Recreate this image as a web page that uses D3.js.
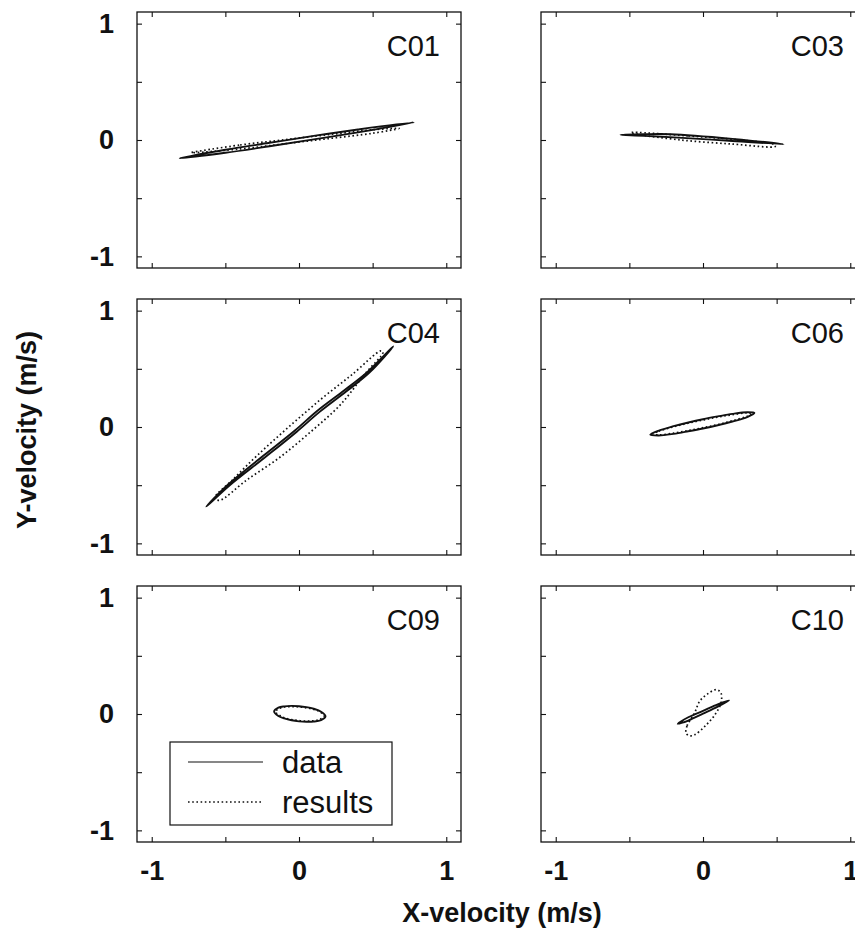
<!DOCTYPE html>
<html><head><meta charset="utf-8">
<script src="https://cdn.jsdelivr.net/npm/d3@7"></script>
<style>body{margin:0;background:#fff}</style>
</head><body><svg id="c" width="855" height="934"></svg>
<script>
// ---------- data (velocities in m/s) ----------
const panelNames = ["C01", "C03", "C04", "C06", "C09", "C10"];

const dataC01 = [[-0.81,-0.157],[-0.5,-0.084],[-0.2,-0.024],[0.1,0.035],[0.4,0.090],[0.78,0.152],[0.4,0.066],[0.1,0.005],[-0.2,-0.054],[-0.5,-0.110]];
const resultsC01 = [[-0.73,-0.109],[-0.4,-0.043],[-0.1,0.002],[0.2,0.046],[0.5,0.088],[0.68,0.100],[0.5,0.058],[0.2,0.012],[-0.1,-0.033],[-0.4,-0.077]];

const dataC03 = [[-0.56,0.045],[-0.4,0.05],[-0.22,0.05],[0.2,0.01],[0.546,-0.036],[0.2,-0.008],[-0.17,0.02],[-0.4,0.037]];
const resultsC03 = [[-0.49,0.065],[-0.1,0.035],[0.25,0.0],[0.486,-0.04],[0.49,-0.055],[0.2,-0.035],[-0.15,0.0],[-0.45,0.05]];

const dataC04 = [[-0.63,-0.684],[-0.483,-0.496],[-0.245,-0.25],[-0.03,-0.032],[0.127,0.142],[0.308,0.316],[0.467,0.476],[0.64,0.693],[0.48,0.47],[0.32,0.305],[0.14,0.13],[-0.015,-0.04],[-0.23,-0.26],[-0.47,-0.5]];
const resultsC04 = [[-0.573,-0.612],[-0.44,-0.44],[-0.28,-0.24],[-0.07,0.0],[0.15,0.24],[0.36,0.45],[0.557,0.655],[0.57,0.64],[0.45,0.46],[0.28,0.19],[0.09,-0.03],[-0.13,-0.26],[-0.36,-0.46],[-0.539,-0.63]];

const dataC06 = [[-0.358,-0.066],[-0.3,-0.031],[-0.2,0.007],[-0.1,0.039],[0,0.067],[0.1,0.091],[0.2,0.113],[0.3,0.127],[0.349,0.121],[0.3,0.085],[0.2,0.047],[0.1,0.015],[0,-0.013],[-0.1,-0.037],[-0.2,-0.059],[-0.3,-0.073]];
const resultsC06 = [[-0.34,-0.062],[-0.3,-0.037],[-0.2,0.002],[-0.1,0.033],[0,0.060],[0.1,0.085],[0.2,0.106],[0.3,0.121],[0.335,0.115],[0.3,0.092],[0.2,0.054],[0.1,0.021],[0,-0.006],[-0.1,-0.031],[-0.2,-0.053],[-0.3,-0.068]];

const dataC09 = [[-0.169,0.023],[-0.14,0.055],[-0.1,0.066],[-0.05,0.070],[0,0.067],[0.05,0.059],[0.1,0.045],[0.15,0.020],[0.18,-0.02],[0.15,-0.052],[0.1,-0.065],[0.05,-0.067],[0,-0.063],[-0.05,-0.054],[-0.1,-0.038],[-0.14,-0.017]];
const resultsC09 = [[-0.16,0.02],[-0.13,0.05],[-0.1,0.06],[-0.05,0.064],[0,0.061],[0.05,0.053],[0.1,0.04],[0.14,0.02],[0.17,-0.018],[0.14,-0.047],[0.1,-0.058],[0.05,-0.061],[0,-0.057],[-0.05,-0.048],[-0.1,-0.033],[-0.13,-0.013]];

const dataC10 = [[-0.172,-0.084],[-0.1,-0.028],[0,0.027],[0.1,0.083],[0.177,0.117],[0.1,0.063],[0,0.003],[-0.1,-0.056]];
const resultsC10 = [[-0.115,-0.164],[-0.108,-0.101],[-0.057,0.009],[-0.023,0.109],[0.034,0.175],[0.092,0.21],[0.122,0.181],[0.122,0.095],[0.081,-0.006],[0.012,-0.107],[-0.057,-0.179],[-0.092,-0.187]];

const dataSeries = [dataC01, dataC03, dataC04, dataC06, dataC09, dataC10];
const resultsSeries = [resultsC01, resultsC03, resultsC04, resultsC06, resultsC09, resultsC10];

const tickValues = [-1, -0.5, 0, 0.5, 1];
const tickLabels = ["-1", "", "0", "", "1"];
const axisDomain = [-1.1, 1.1];
const legendLabels = ["data", "results"];
const xTitle = "X-velocity (m/s)";
const yTitle = "Y-velocity (m/s)";

// ---------- layout ----------
const svg = d3.select("#c");
const W = 324, H = 256;
const colX = [137, 541], rowY = [12, 299, 586];
const font = "'Liberation Sans', Arial, Helvetica, sans-serif";
const ink = "#111";

const x = d3.scaleLinear().domain(axisDomain).range([0, W]);
const y = d3.scaleLinear().domain(axisDomain).range([H, 0]);
const loop = d3.line().x(d => x(d[0])).y(d => y(d[1])).curve(d3.curveCatmullRomClosed.alpha(0.5));
const fmt = d => tickLabels[tickValues.indexOf(d)];
const none = () => "";

function styleAxis(g) {
  g.select(".domain").remove();
  g.selectAll(".tick line").attr("stroke", ink).attr("stroke-width", 1.1);
  g.selectAll("text").attr("font-family", font).attr("font-size", 27).attr("font-weight", "bold").attr("fill", ink);
}

panelNames.forEach((name, i) => {
  const col = i % 2, row = Math.floor(i / 2);
  const g = svg.append("g").attr("transform", `translate(${colX[col]},${rowY[row]})`);

  g.append("g").call(d3.axisLeft(y).tickValues(tickValues).tickSize(-5).tickPadding(23).tickFormat(col === 0 ? fmt : none)).call(styleAxis);
  g.append("g").attr("transform", `translate(${W},0)`).call(d3.axisRight(y).tickValues(tickValues).tickSize(-5).tickFormat(none)).call(styleAxis);
  g.append("g").attr("transform", `translate(0,${H})`).call(d3.axisBottom(x).tickValues(tickValues).tickSize(-5).tickPadding(19).tickFormat(row === 2 ? fmt : none)).call(styleAxis);
  g.append("g").call(d3.axisTop(x).tickValues(tickValues).tickSize(-5).tickFormat(none)).call(styleAxis);

  g.append("rect").attr("x", 0).attr("y", 0).attr("width", W).attr("height", H)
    .attr("fill", "none").attr("stroke", ink).attr("stroke-width", 1.3);

  g.append("path").attr("d", loop(resultsSeries[i])).attr("fill", "none")
    .attr("stroke", ink).attr("stroke-width", 1.7).attr("stroke-dasharray", "1.6,2.6");
  g.append("path").attr("d", loop(dataSeries[i])).attr("fill", "none")
    .attr("stroke", ink).attr("stroke-width", 1.9);

  g.append("text").attr("x", W - 21).attr("y", 44).attr("text-anchor", "end")
    .attr("font-family", font).attr("font-size", 29).attr("fill", ink).text(name);

  if (name === "C09") {
    const lg = g.append("g").attr("transform", "translate(33,156)");
    lg.append("rect").attr("width", 222).attr("height", 83).attr("fill", "#fff").attr("stroke", ink).attr("stroke-width", 1.2);
    legendLabels.forEach((lab, k) => {
      const ly = 20 + k * 40;
      lg.append("line").attr("x1", 18).attr("x2", 93).attr("y1", ly).attr("y2", ly)
        .attr("stroke", ink).attr("stroke-width", k === 0 ? 1.2 : 1.6)
        .attr("stroke-dasharray", k === 0 ? null : "1.6,2.6");
      lg.append("text").attr("x", 112).attr("y", ly + 11).attr("font-family", font)
        .attr("font-size", 31).attr("fill", ink).text(lab);
    });
  }
});

svg.append("text").attr("x", 502).attr("y", 922).attr("text-anchor", "middle")
  .attr("font-family", font).attr("font-size", 27).attr("font-weight", "bold").attr("fill", ink).text(xTitle);
svg.append("text").attr("transform", "translate(36,430) rotate(-90)").attr("text-anchor", "middle")
  .attr("font-family", font).attr("font-size", 27).attr("font-weight", "bold").attr("fill", ink).text(yTitle);
</script></body></html>
